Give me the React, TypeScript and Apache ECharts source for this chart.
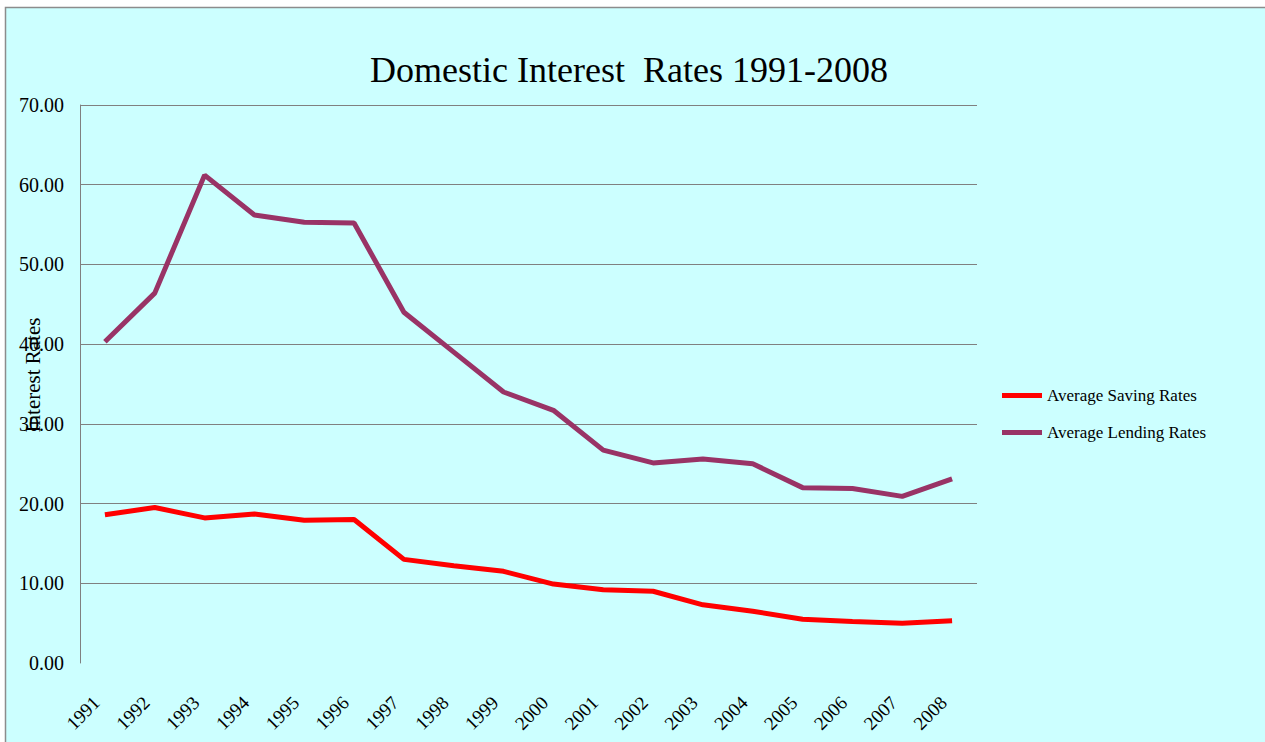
import React, { useEffect, useRef } from "react";
import * as echarts from "echarts";

const years = ["1991","1992","1993","1994","1995","1996","1997","1998","1999","2000","2001","2002","2003","2004","2005","2006","2007","2008"];
const savingRates = [18.6, 19.5, 18.2, 18.7, 17.9, 18.0, 13.0, 12.2, 11.5, 9.9, 9.2, 9.0, 7.3, 6.5, 5.5, 5.2, 5.0, 5.3];
const lendingRates = [40.3, 46.4, 61.2, 56.2, 55.3, 55.2, 44.0, 39.0, 34.0, 31.7, 26.7, 25.1, 25.6, 25.0, 22.0, 21.9, 20.9, 23.1];
const seriesNames = ["Average Saving Rates", "Average Lending Rates"];
const titleText = "Domestic Interest  Rates 1991-2008";
const yAxisTitle = "Interest Rates";

const FONT = "Liberation Serif";

export default function App() {
  const ref = useRef<HTMLDivElement>(null);
  useEffect(() => {
    document.body.style.margin = "0";
    const chart = echarts.init(ref.current!, null, { renderer: "svg" });
    chart.setOption({
      animation: false,
      backgroundColor: "#ffffff",
      textStyle: { fontFamily: FONT },
      graphic: [
        {
          type: "rect",
          z: -10,
          silent: true,
          shape: { x: 5.5, y: 7.5, width: 1300, height: 800 },
          style: { fill: "#CCFFFF", stroke: "#8c8c8c", lineWidth: 1.5 },
        },
        {
          type: "text",
          x: 33,
          y: 375,
          rotation: Math.PI / 2,
          z: 10,
          style: {
            text: yAxisTitle,
            fontFamily: FONT,
            fontSize: 21,
            fill: "#000",
            align: "center",
            verticalAlign: "middle",
          },
        },
      ],
      title: {
        text: titleText,
        left: 629,
        top: 52,
        textAlign: "center",
        padding: 0,
        textStyle: { fontFamily: FONT, fontSize: 36, fontWeight: "normal", color: "#000" },
      },
      legend: {
        orient: "vertical",
        left: 997,
        top: 382,
        itemWidth: 40,
        itemHeight: 5,
        itemGap: 20,
        icon: "rect",
        textStyle: { fontFamily: FONT, fontSize: 17, color: "#000" },
        data: seriesNames,
      },
      grid: { left: 80, right: 288, top: 105, bottom: 79, containLabel: false, outerBoundsMode: "none" },
      xAxis: {
        type: "category",
        data: years,
        boundaryGap: true,
        axisLine: { show: false },
        axisTick: { show: false },
        axisLabel: {
          rotate: 45,
          margin: 28,
          padding: [0, 12, 0, 0],
          color: "#000",
          fontFamily: FONT,
          fontSize: 19,
          interval: 0,
        },
      },
      yAxis: {
        type: "value",
        min: 0,
        max: 70,
        interval: 10,
        axisLine: { show: true, lineStyle: { color: "#808080", width: 1 } },
        axisTick: { show: false },
        axisLabel: {
          margin: 16,
          color: "#000",
          fontFamily: FONT,
          fontSize: 20,
          formatter: (v: number) => v.toFixed(2),
        },
        splitLine: {
          show: true,
          lineStyle: {
            color: ["rgba(0,0,0,0)", "#808080", "#808080", "#808080", "#808080", "#808080", "#808080", "#808080"],
            width: 1,
          },
        },
      },
      series: [
        {
          name: seriesNames[0],
          type: "line",
          data: savingRates,
          symbol: "none",
          color: "#FF0000",
          lineStyle: { width: 5, color: "#FF0000" },
        },
        {
          name: seriesNames[1],
          type: "line",
          data: lendingRates,
          symbol: "none",
          color: "#993366",
          lineStyle: { width: 5, color: "#993366" },
        },
      ],
    });
    return () => chart.dispose();
  }, []);
  return <div ref={ref} style={{ position: "absolute", left: 0, top: 0, width: 1265, height: 742 }} />;
}
